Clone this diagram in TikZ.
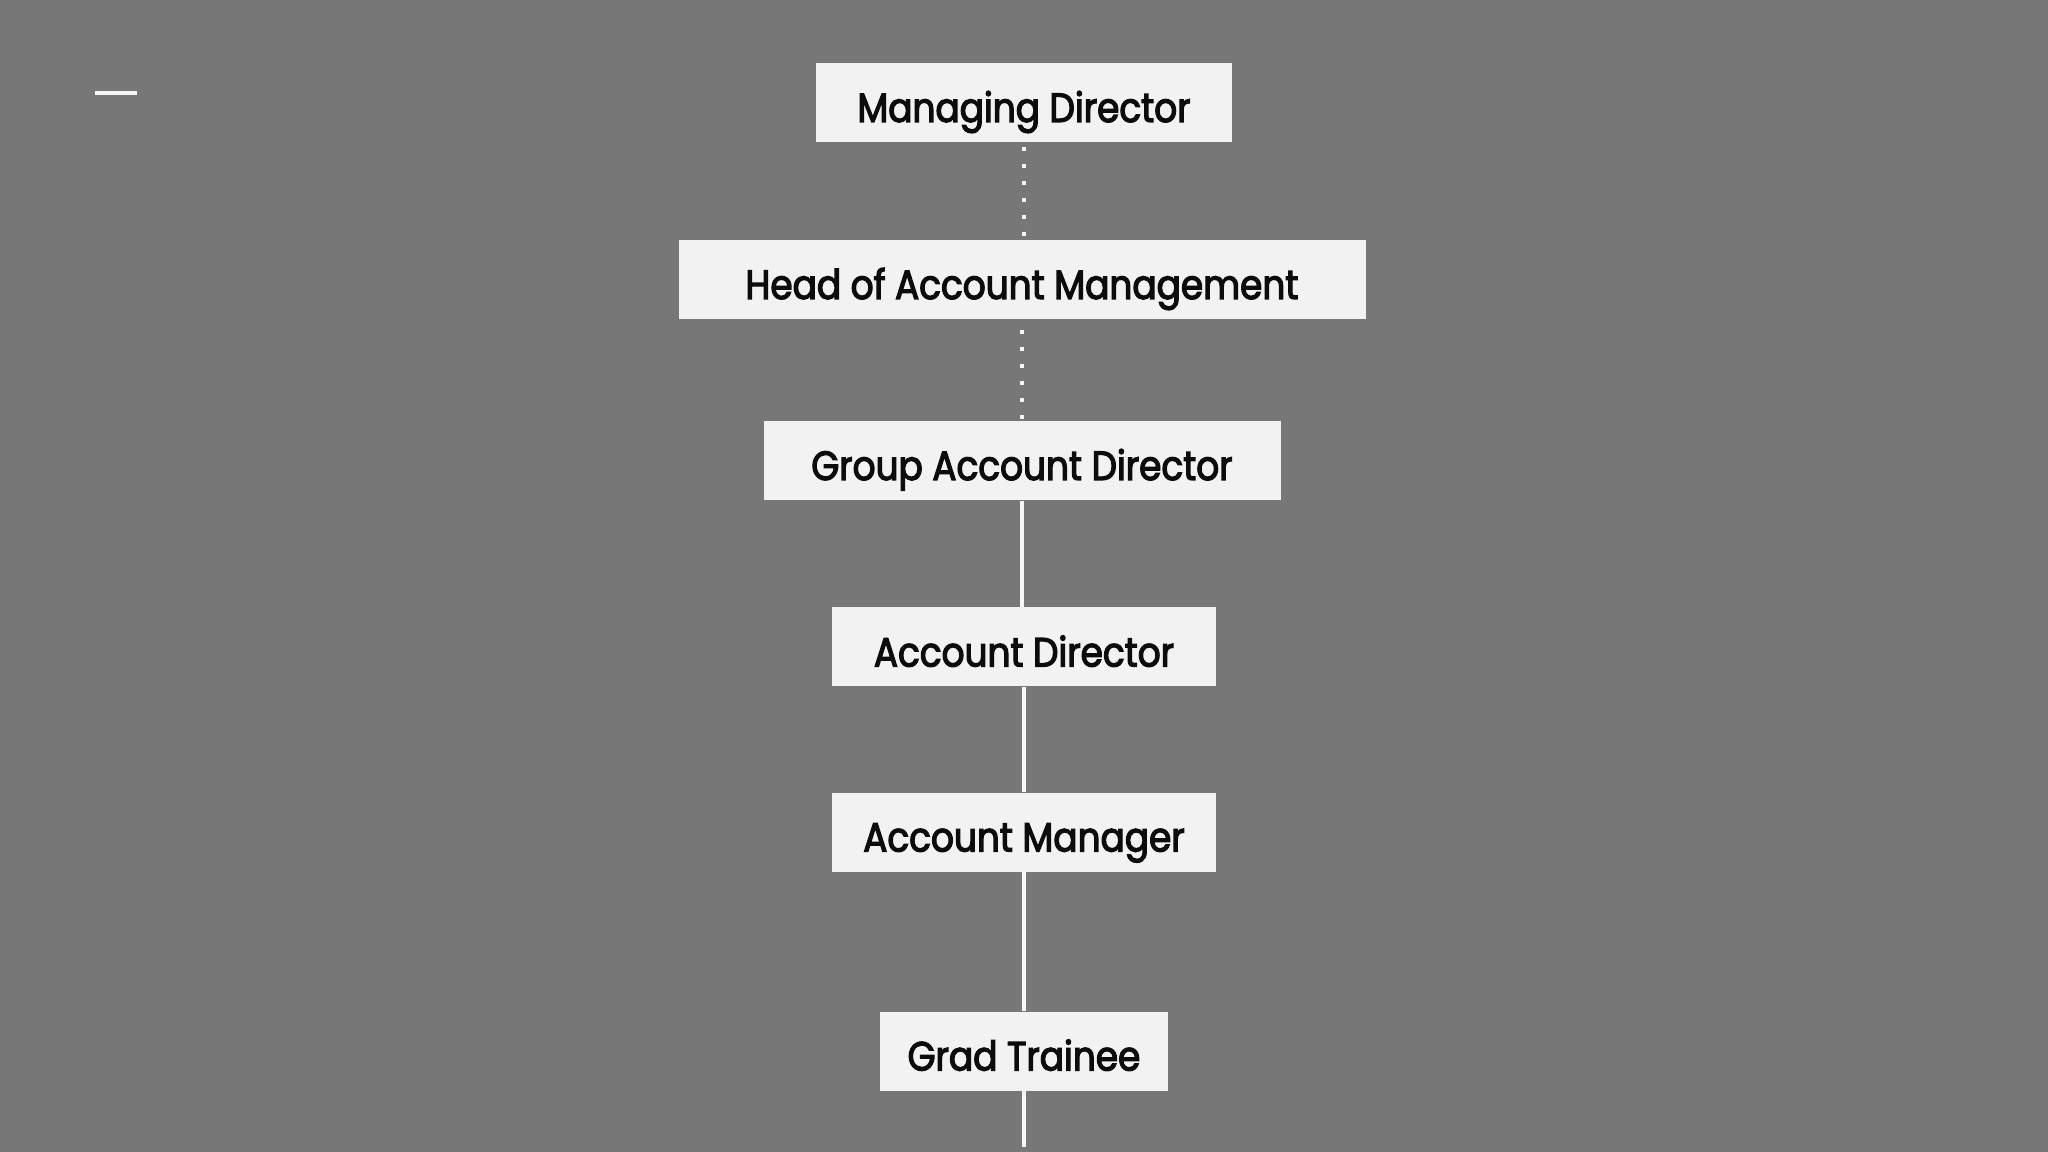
\documentclass[tikz,border=0pt]{standalone}
\usepackage{fontspec}
\setmainfont{Poppins}[FakeBold=3, FakeStretch=0.88]
\usepackage{tikz}
\definecolor{slidebg}{RGB}{119,119,119}
\definecolor{boxfill}{RGB}{242,242,242}
\definecolor{linkline}{RGB}{246,246,246}
\definecolor{rolecol}{RGB}{12,12,12}

\begin{document}
\begin{tikzpicture}[
    rolebox/.style={fill=boxfill, draw=none, inner sep=0pt, minimum height=0.79cm,
        text=rolecol, font=\fontsize{11.6}{13}\selectfont,
        text height=0.5cm, text depth=0.11cm},
    solidlink/.style={draw=linkline, line width=0.04cm},
    dotlink/.style={draw=linkline, line width=0.04cm, dash pattern=on 0.04cm off 0.13cm}
]
    % 背景
    \fill[slidebg] (0,0) rectangle (20.48,-11.52);
    \useasboundingbox (0,0) rectangle (20.48,-11.52);
    \draw[linkline, line width=0.04cm] (0.95,-0.93) -- (1.37,-0.93);

    % 职位
    \node[rolebox, minimum width=4.16cm] (md)   at (10.24,-1.025) {Managing Director};
    \node[rolebox, minimum width=6.87cm] (ham)  at (10.22,-2.795) {Head of Account Management};
    \node[rolebox, minimum width=5.17cm] (gad)  at (10.22,-4.605) {Group Account Director};
    \node[rolebox, minimum width=3.84cm] (ad)   at (10.24,-6.47)  {Account Director};
    \node[rolebox, minimum width=3.84cm] (am)   at (10.24,-8.32)  {Account Manager};
    \node[rolebox, minimum width=2.88cm] (gt)   at (10.24,-10.51) {Grad Trainee};
    \coordinate (bottom) at (10.24,-11.47);

    % 连线
    \draw[dotlink] ([yshift=-0.04cm]md.south) -- (md.south |- ham.north);
    \draw[dotlink] ([yshift=-0.1cm]ham.south) -- (ham.south |- gad.north);
    \draw[solidlink] (gad.south) -- (gad.south |- ad.north);
    \draw[solidlink] (ad.south) -- (am.north);
    \draw[solidlink] (am.south) -- (gt.north);
    \draw[solidlink] (gt.south) -- (bottom);
\end{tikzpicture}
\end{document}
